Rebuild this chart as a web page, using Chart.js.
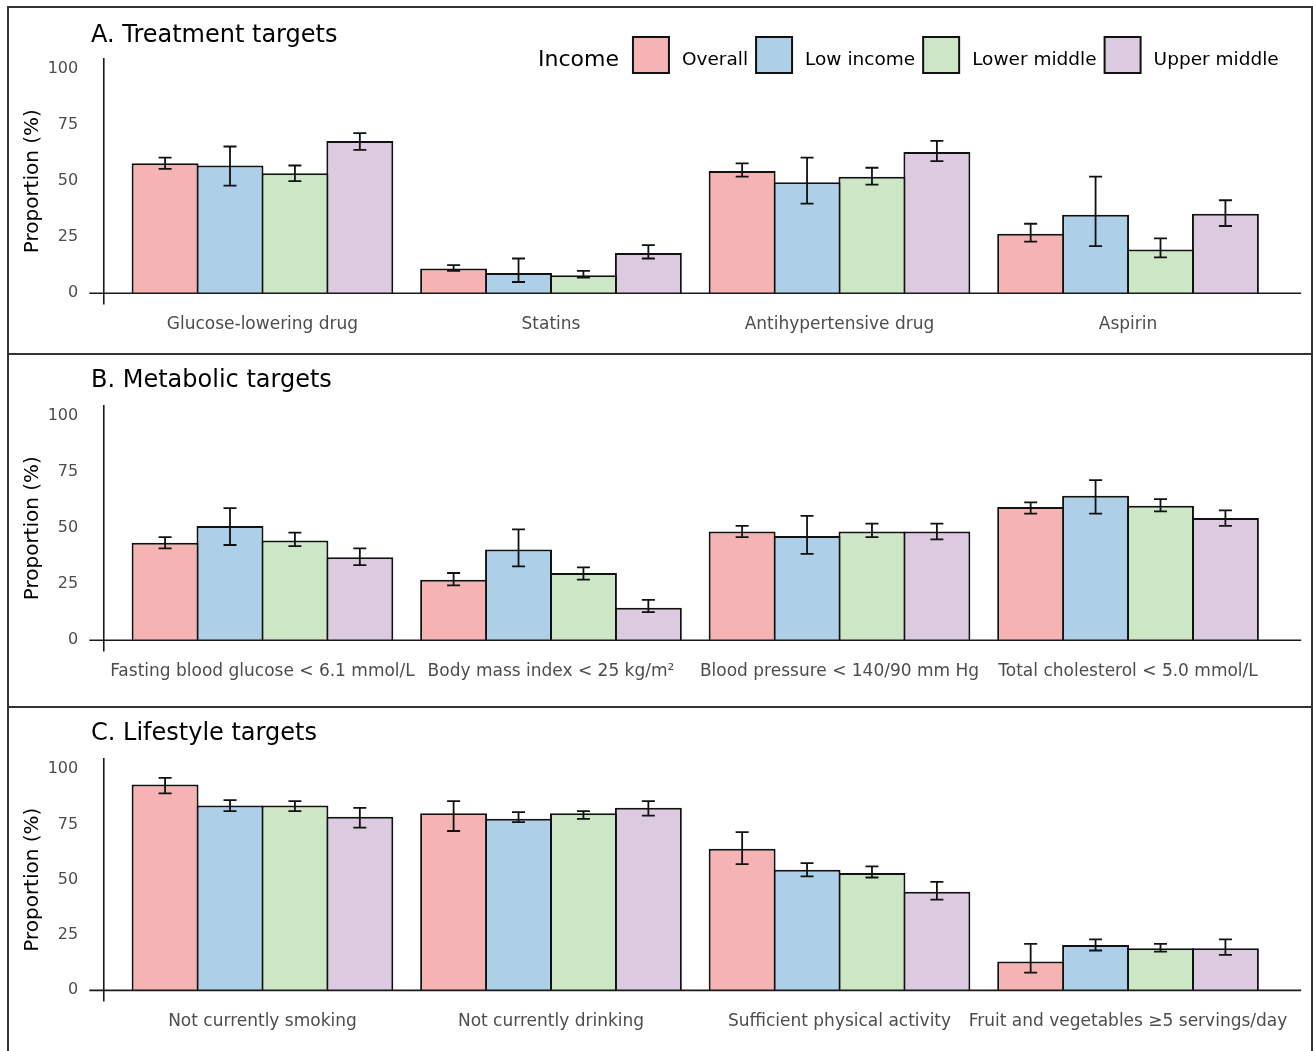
<!DOCTYPE html>
<html>
<head>
<meta charset="utf-8">
<script src="https://cdn.jsdelivr.net/npm/chart.js@4.4.1/dist/chart.umd.min.js"></script>
<style>
  html, body { margin: 0; padding: 0; background: #fff; overflow: hidden; }
  body { width: 1313px; height: 1051px; position: relative; }
  canvas { position: absolute; left: 0; }
  .frame { position: absolute; left: 7px; width: 1306px; border: 2px solid #333; box-sizing: border-box; pointer-events: none; }
</style>
</head>
<body>
<canvas id="chartA" width="1313" height="347" style="top:7px"></canvas>
<canvas id="chartB" width="1313" height="353" style="top:354px"></canvas>
<canvas id="chartC" width="1313" height="344" style="top:707px"></canvas>
<div class="frame" style="top:6px;height:349px"></div>
<div class="frame" style="top:353px;height:355px"></div>
<div class="frame" style="top:706px;height:360px"></div>
<script>
// series (income groups)
const seriesLabels = ["Overall", "Low income", "Lower middle", "Upper middle"];
const seriesColors = ["#F5B3B4", "#ADCFE8", "#CDE6C6", "#DCCAE1"];
const yTicks = [0, 25, 50, 75, 100];

// A. treatment targets  (rows = series, cols = categories)
const treatCats = ["Glucose-lowering drug", "Statins", "Antihypertensive drug", "Aspirin"];
const treatVal = [[58, 11, 54.5, 26.5], [57, 9, 49.5, 35], [53.5, 8, 52, 19.5], [68, 18, 63, 35.5]];
const treatLo = [[55.5, 10, 52, 23], [48, 5, 40, 21], [50, 7, 48.5, 16], [64, 15.5, 59, 30]];
const treatHi = [[60.5, 12.5, 58, 31], [65.5, 15.5, 60.5, 52], [57, 10, 56, 24.5], [71.5, 21.5, 68, 41.5]];

// B. metabolic targets
const metaCats = ["Fasting blood glucose < 6.1 mmol/L", "Body mass index < 25 kg/m²", "Blood pressure < 140/90 mm Hg", "Total cholesterol < 5.0 mmol/L"];
const metaVal = [[43.5, 27, 48.5, 59.5], [51, 40.5, 46.5, 64.5], [44.5, 30, 48.5, 60], [37, 14.5, 48.5, 54.5]];
const metaLo = [[41, 24.5, 46, 56.5], [42.5, 33, 38.5, 56.5], [42, 27, 46, 57.5], [33.5, 12.5, 45, 51]];
const metaHi = [[46, 30, 51, 61.5], [59, 49.5, 55.5, 71.5], [48, 32.5, 52, 63], [41, 18, 52, 58]];

// C. lifestyle targets
const lifeCats = ["Not currently smoking", "Not currently drinking", "Sufficient physical activity", "Fruit and vegetables ≥5 servings/day"];
const lifeVal = [[93, 80, 64, 13], [83.5, 77.5, 54.5, 20.5], [83.5, 80, 53, 19], [78.5, 82.5, 44.5, 19]];
const lifeLo = [[89, 72, 57, 8], [81, 76, 51.5, 18], [81, 77.5, 51, 17.5], [73.5, 79, 41, 16]];
const lifeHi = [[96, 85.5, 71.5, 21], [86, 80.5, 57.5, 23], [85.5, 81, 56, 21], [82.5, 85.5, 49, 23]];

Chart.defaults.font.family = "'DejaVu Sans', sans-serif";

const panelDecor = {
  id: "panelDecor",
  afterDatasetsDraw(chart, args, opts) {
    const ctx = chart.ctx;
    const xs = chart.scales.x;
    const ys = chart.scales.y;
    const first = xs.getPixelForValue(0);
    const step = xs.getPixelForValue(1) - first;
    const last = xs.getPixelForValue(chart.data.labels.length - 1);
    const zero = ys.getPixelForValue(0);

    ctx.save();

    // axis lines
    ctx.strokeStyle = "#1a1a1a";
    ctx.lineWidth = 1.6;
    ctx.beginPath();
    ctx.moveTo(first - 0.6 * step, zero);
    ctx.lineTo(last + 0.6 * step, zero);
    ctx.moveTo(first - 0.55 * step, ys.top);
    ctx.lineTo(first - 0.55 * step, ys.bottom);
    ctx.stroke();

    // error bars
    ctx.strokeStyle = "#111";
    ctx.lineWidth = 1.8;
    chart.data.datasets.forEach((ds, i) => {
      chart.getDatasetMeta(i).data.forEach((bar, j) => {
        const top = ys.getPixelForValue(ds.errHi[j]);
        const bot = ys.getPixelForValue(ds.errLo[j]);
        ctx.beginPath();
        ctx.moveTo(bar.x, top);
        ctx.lineTo(bar.x, bot);
        ctx.moveTo(bar.x - 6.5, top);
        ctx.lineTo(bar.x + 6.5, top);
        ctx.moveTo(bar.x - 6.5, bot);
        ctx.lineTo(bar.x + 6.5, bot);
        ctx.stroke();
      });
    });

    // panel title
    ctx.fillStyle = "#000";
    ctx.textBaseline = "alphabetic";
    ctx.textAlign = "left";
    ctx.font = "24px 'DejaVu Sans'";
    ctx.fillText(opts.title, 91, opts.titleY);

    // legend
    if (opts.legend) {
      let x = 538;
      ctx.font = "22px 'DejaVu Sans'";
      ctx.fillText("Income", x, 58.5);
      x += ctx.measureText("Income").width + 14;
      ctx.font = "18.5px 'DejaVu Sans'";
      chart.data.datasets.forEach((ds) => {
        ctx.fillStyle = ds.backgroundColor;
        ctx.fillRect(x, 30, 36, 36);
        ctx.strokeStyle = "#111";
        ctx.lineWidth = 2;
        ctx.strokeRect(x, 30, 36, 36);
        x += 36 + 13;
        ctx.fillStyle = "#000";
        ctx.fillText(ds.label, x, 57.5);
        x += ctx.measureText(ds.label).width + 8;
      });
    }

    ctx.restore();
  }
};

function makePanel(id, cats, vals, lows, highs, title, titleY, legend) {
  const canvas = document.getElementById(id);
  const plotH = 246.4;
  const topPad = 51;
  const xAxisH = canvas.height - topPad - plotH;

  const datasets = seriesLabels.map((label, i) => ({
    label: label,
    data: vals[i],
    errLo: lows[i],
    errHi: highs[i],
    backgroundColor: seriesColors[i],
    borderColor: "#111",
    borderWidth: 2,
    borderSkipped: "start",
    barPercentage: 1.031,
    categoryPercentage: 0.9,
  }));

  return new Chart(canvas, {
    type: "bar",
    data: { labels: cats, datasets: datasets },
    options: {
      responsive: false,
      animation: false,
      layout: { padding: { top: topPad, left: 0, right: 40.7, bottom: 0 } },
      plugins: {
        legend: { display: false },
        tooltip: { enabled: false },
        panelDecor: { title: title, titleY: titleY, legend: legend },
      },
      scales: {
        x: {
          grid: { display: false, drawTicks: false },
          border: { display: false },
          ticks: {
            color: "#4d4d4d",
            font: { size: 17 },
            padding: 10,
            autoSkip: false,
            maxRotation: 0,
          },
          afterFit: (s) => { s.height = xAxisH; },
        },
        y: {
          min: -5,
          max: 105,
          grid: { display: false, drawTicks: false },
          border: { display: false },
          ticks: { color: "#4d4d4d", font: { size: 16 }, padding: 40 },
          afterBuildTicks: (s) => { s.ticks = yTicks.map((v) => ({ value: v })); },
          title: {
            display: true,
            text: "Proportion (%)",
            color: "#000",
            font: { size: 20 },
            padding: { top: 21, bottom: 0 },
          },
          afterFit: (s) => { s.width = 118.2; },
        },
      },
    },
    plugins: [panelDecor],
  });
}

makePanel("chartA", treatCats, treatVal, treatLo, treatHi, "A. Treatment targets", 35, true);
makePanel("chartB", metaCats, metaVal, metaLo, metaHi, "B. Metabolic targets", 33, false);
makePanel("chartC", lifeCats, lifeVal, lifeLo, lifeHi, "C. Lifestyle targets", 33, false);
</script>
</body>
</html>
